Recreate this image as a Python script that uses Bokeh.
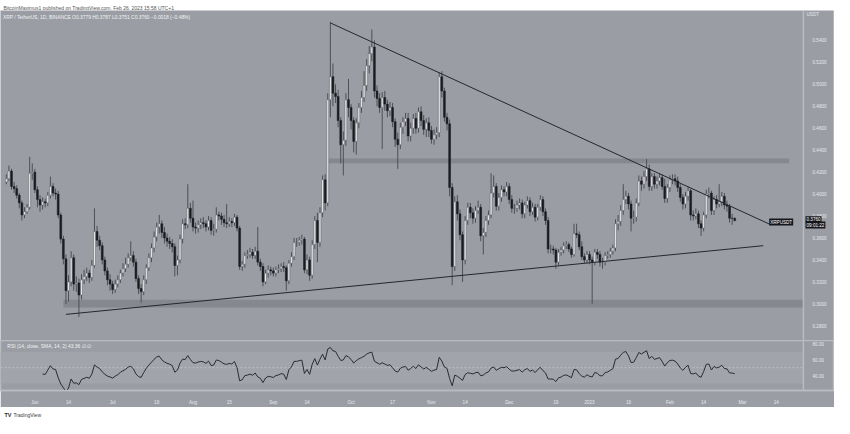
import pandas as pd
from bokeh.plotting import figure
from bokeh.layouts import column
from bokeh.models import Range1d, FixedTicker, PrintfTickFormatter, Label, BoxAnnotation, Span, ColumnDataSource
from bokeh.core.properties import value
from bokeh.embed import file_html
from bokeh.resources import INLINE

# ---------------- data (XRP / TetherUS, 1D, daily candles from 2022-05-21) ----------------
start_date = "2022-05-21"
first_open = 0.411
closes = [
    0.414, 0.421, 0.407, 0.405, 0.399, 0.392, 0.381, 0.384, 0.388, 0.419,
    0.420, 0.404, 0.395, 0.390, 0.393, 0.392, 0.399, 0.407, 0.401, 0.400,
    0.381, 0.359, 0.341, 0.312, 0.320, 0.342, 0.318, 0.319, 0.308, 0.322,
    0.325, 0.328, 0.324, 0.335, 0.366, 0.358, 0.353, 0.340, 0.330, 0.322,
    0.318, 0.313, 0.318, 0.322, 0.328, 0.332, 0.336, 0.342, 0.344, 0.338,
    0.323, 0.314, 0.311, 0.322, 0.333, 0.342, 0.351, 0.361, 0.370, 0.373,
    0.365, 0.360, 0.357, 0.355, 0.352, 0.335, 0.340, 0.359, 0.373, 0.372,
    0.387, 0.378, 0.370, 0.369, 0.372, 0.374, 0.373, 0.370, 0.376, 0.367,
    0.368, 0.381, 0.380, 0.377, 0.374, 0.373, 0.375, 0.374, 0.379, 0.369,
    0.334, 0.336, 0.344, 0.345, 0.347, 0.344, 0.348, 0.338, 0.334, 0.320,
    0.328, 0.331, 0.330, 0.328, 0.331, 0.332, 0.334, 0.333, 0.321, 0.337,
    0.343, 0.356, 0.356, 0.358, 0.359, 0.331, 0.340, 0.326, 0.354, 0.376,
    0.356, 0.383, 0.413, 0.392, 0.486, 0.507, 0.492, 0.489, 0.467, 0.445,
    0.449, 0.486, 0.479, 0.467, 0.448, 0.465, 0.479, 0.488, 0.499, 0.517,
    0.528, 0.534, 0.494, 0.487, 0.479, 0.488, 0.482, 0.476, 0.479, 0.466,
    0.450, 0.445, 0.461, 0.466, 0.469, 0.453, 0.460, 0.469, 0.460, 0.475,
    0.467, 0.459, 0.465, 0.458, 0.450, 0.454, 0.456, 0.507, 0.494, 0.470,
    0.464, 0.406, 0.334, 0.393, 0.382, 0.363, 0.340, 0.376, 0.388, 0.383,
    0.378, 0.385, 0.388, 0.362, 0.365, 0.376, 0.381, 0.401, 0.407, 0.389,
    0.397, 0.404, 0.402, 0.407, 0.395, 0.387, 0.387, 0.390, 0.392, 0.382,
    0.390, 0.394, 0.384, 0.388, 0.379, 0.388, 0.395, 0.384, 0.376, 0.350,
    0.350, 0.349, 0.338, 0.347, 0.349, 0.353, 0.354, 0.350, 0.345, 0.364,
    0.363, 0.352, 0.343, 0.340, 0.345, 0.340, 0.338, 0.347, 0.345, 0.338,
    0.338, 0.344, 0.345, 0.348, 0.351, 0.373, 0.375, 0.385, 0.395, 0.398,
    0.391, 0.378, 0.379, 0.392, 0.412, 0.409, 0.416, 0.423, 0.407, 0.416,
    0.409, 0.412, 0.415, 0.407, 0.396, 0.406, 0.413, 0.414, 0.412, 0.406,
    0.397, 0.391, 0.398, 0.403, 0.381, 0.380, 0.382, 0.373, 0.369, 0.381,
    0.400, 0.401, 0.385, 0.395, 0.391, 0.393, 0.398, 0.390, 0.389, 0.378,
    0.3779, 0.3760,
]
highs = [
    0.418, 0.426, 0.423, 0.411, 0.408, 0.401, 0.394, 0.388, 0.391, 0.434,
    0.428, 0.423, 0.407, 0.399, 0.397, 0.396, 0.402, 0.416, 0.410, 0.405,
    0.403, 0.383, 0.362, 0.345, 0.326, 0.348, 0.345, 0.325, 0.323, 0.327,
    0.331, 0.333, 0.331, 0.340, 0.387, 0.371, 0.362, 0.356, 0.343, 0.333,
    0.327, 0.321, 0.322, 0.326, 0.331, 0.337, 0.342, 0.346, 0.357, 0.348,
    0.341, 0.326, 0.318, 0.326, 0.336, 0.346, 0.355, 0.366, 0.374, 0.381,
    0.376, 0.370, 0.364, 0.361, 0.359, 0.355, 0.344, 0.363, 0.377, 0.378,
    0.409, 0.392, 0.394, 0.374, 0.376, 0.378, 0.379, 0.376, 0.380, 0.379,
    0.373, 0.388, 0.384, 0.383, 0.381, 0.391, 0.379, 0.378, 0.382, 0.381,
    0.371, 0.339, 0.347, 0.349, 0.351, 0.350, 0.352, 0.370, 0.341, 0.337,
    0.331, 0.335, 0.334, 0.333, 0.334, 0.336, 0.337, 0.338, 0.335, 0.340,
    0.347, 0.360, 0.360, 0.361, 0.363, 0.361, 0.345, 0.343, 0.358, 0.380,
    0.383, 0.388, 0.417, 0.418, 0.492, 0.557, 0.519, 0.500, 0.495, 0.470,
    0.457, 0.492, 0.505, 0.482, 0.470, 0.469, 0.483, 0.494, 0.512, 0.523,
    0.535, 0.550, 0.540, 0.499, 0.492, 0.493, 0.494, 0.486, 0.484, 0.483,
    0.469, 0.456, 0.465, 0.470, 0.474, 0.474, 0.465, 0.473, 0.474, 0.479,
    0.480, 0.472, 0.469, 0.470, 0.462, 0.459, 0.461, 0.511, 0.512, 0.497,
    0.474, 0.468, 0.410, 0.398, 0.399, 0.386, 0.366, 0.380, 0.392, 0.392,
    0.387, 0.389, 0.394, 0.391, 0.369, 0.380, 0.385, 0.419, 0.417, 0.410,
    0.401, 0.408, 0.407, 0.411, 0.410, 0.399, 0.391, 0.394, 0.396, 0.395,
    0.393, 0.398, 0.397, 0.392, 0.391, 0.391, 0.399, 0.398, 0.387, 0.379,
    0.354, 0.353, 0.351, 0.350, 0.352, 0.356, 0.357, 0.356, 0.352, 0.373,
    0.373, 0.366, 0.357, 0.346, 0.348, 0.348, 0.343, 0.350, 0.350, 0.348,
    0.342, 0.347, 0.348, 0.351, 0.354, 0.377, 0.381, 0.390, 0.409, 0.403,
    0.401, 0.394, 0.385, 0.396, 0.417, 0.416, 0.421, 0.432, 0.427, 0.419,
    0.419, 0.416, 0.419, 0.418, 0.414, 0.409, 0.417, 0.418, 0.418, 0.416,
    0.409, 0.400, 0.402, 0.407, 0.405, 0.385, 0.387, 0.385, 0.376, 0.384,
    0.404, 0.406, 0.403, 0.398, 0.399, 0.409, 0.402, 0.401, 0.394, 0.391,
    0.382, 0.3787,
]
lows = [
    0.409, 0.412, 0.404, 0.401, 0.396, 0.387, 0.376, 0.378, 0.382, 0.386,
    0.413, 0.401, 0.388, 0.384, 0.386, 0.388, 0.389, 0.396, 0.398, 0.395,
    0.378, 0.355, 0.336, 0.300, 0.302, 0.316, 0.312, 0.311, 0.288, 0.304,
    0.318, 0.321, 0.319, 0.321, 0.333, 0.352, 0.349, 0.336, 0.326, 0.317,
    0.312, 0.309, 0.310, 0.315, 0.319, 0.325, 0.329, 0.333, 0.339, 0.334,
    0.320, 0.309, 0.301, 0.308, 0.318, 0.330, 0.338, 0.347, 0.357, 0.364,
    0.360, 0.355, 0.352, 0.350, 0.347, 0.325, 0.326, 0.337, 0.355, 0.368,
    0.369, 0.374, 0.366, 0.364, 0.365, 0.368, 0.369, 0.366, 0.367, 0.363,
    0.362, 0.365, 0.376, 0.372, 0.370, 0.369, 0.370, 0.370, 0.371, 0.366,
    0.331, 0.330, 0.333, 0.341, 0.342, 0.341, 0.341, 0.335, 0.330, 0.316,
    0.318, 0.324, 0.326, 0.325, 0.325, 0.328, 0.329, 0.329, 0.312, 0.318,
    0.334, 0.340, 0.352, 0.353, 0.354, 0.328, 0.327, 0.321, 0.323, 0.350,
    0.338, 0.352, 0.379, 0.385, 0.389, 0.470, 0.480, 0.483, 0.461, 0.428,
    0.417, 0.444, 0.470, 0.459, 0.438, 0.436, 0.460, 0.474, 0.484, 0.494,
    0.510, 0.521, 0.488, 0.480, 0.474, 0.441, 0.476, 0.470, 0.471, 0.461,
    0.443, 0.423, 0.441, 0.455, 0.462, 0.448, 0.448, 0.455, 0.455, 0.456,
    0.462, 0.454, 0.452, 0.452, 0.446, 0.445, 0.450, 0.452, 0.488, 0.466,
    0.458, 0.398, 0.317, 0.330, 0.376, 0.358, 0.320, 0.336, 0.372, 0.378,
    0.373, 0.374, 0.382, 0.357, 0.345, 0.361, 0.372, 0.378, 0.397, 0.385,
    0.385, 0.393, 0.398, 0.398, 0.391, 0.383, 0.382, 0.384, 0.386, 0.378,
    0.378, 0.387, 0.380, 0.381, 0.375, 0.376, 0.385, 0.380, 0.372, 0.346,
    0.346, 0.345, 0.332, 0.335, 0.344, 0.346, 0.350, 0.347, 0.342, 0.343,
    0.360, 0.349, 0.340, 0.337, 0.337, 0.336, 0.300, 0.335, 0.341, 0.334,
    0.332, 0.335, 0.341, 0.342, 0.345, 0.348, 0.367, 0.371, 0.381, 0.391,
    0.386, 0.366, 0.373, 0.375, 0.389, 0.403, 0.405, 0.412, 0.403, 0.403,
    0.405, 0.405, 0.408, 0.404, 0.392, 0.392, 0.402, 0.409, 0.408, 0.402,
    0.393, 0.386, 0.387, 0.394, 0.376, 0.376, 0.377, 0.369, 0.362, 0.366,
    0.378, 0.396, 0.381, 0.381, 0.387, 0.388, 0.389, 0.386, 0.384, 0.374,
    0.372, 0.3751,
]

tick_dates = ["2022-06-01", "2022-06-14", "2022-07-01", "2022-07-18", "2022-08-01",
              "2022-08-15", "2022-09-01", "2022-09-14", "2022-10-01", "2022-10-17",
              "2022-11-01", "2022-11-14", "2022-12-01", "2022-12-19", "2023-01-01",
              "2023-01-16", "2023-02-01", "2023-02-14", "2023-03-01", "2023-03-14"]
tick_labels = ["Jun", "14", "Jul", "18", "Aug", "15", "Sep", "14", "Oct", "17",
               "Nov", "14", "Dec", "19", "2023", "16", "Feb", "14", "Mar", "14"]
price_ticks = [0.28, 0.30, 0.32, 0.34, 0.36, 0.38, 0.40, 0.42, 0.44, 0.46, 0.48, 0.50, 0.52, 0.54]
rsi_ticks = [40, 60, 80]

# drawn levels / trend lines (dates, prices)
resistance_zone = [0.4280, 0.4324]
resistance_dates = ["2022-09-22", "2023-03-19"]
support_zone = [0.2966, 0.3037]
support_dates = ["2022-06-12", "2023-03-26"]
desc_line_dates = ["2022-09-23", "2023-03-12"]
desc_line_prices = [0.556, 0.372]
asc_line_dates = ["2022-06-13", "2023-03-09"]
asc_line_prices = [0.2904, 0.353]
last_price = 0.3760

header_text = "BitcoinMaximus1 published on TradingView.com, Feb 26, 2023 15:58 UTC+1"
legend_text = "XRP / TetherUS, 1D, BINANCE  O0.3779  H0.3787  L0.3751  C0.3760  \u22120.0018 (\u22120.48%)"
rsi_text = "RSI (14, close, SMA, 14, 2)  43.36  \u2205  \u2205"

# ---------------- styling / layout ----------------
BG = "#9a9da4"
SEP = "#babcc1"
ZONE = "#85888f"
BAND = "#a1a4ab"
AX_TXT = "#e8e9ec"
WICK = "#4e5057"
UP_FILL = "#eeeef0"
UP_LINE = "#5c5e65"
DN_FILL = "#1b1c21"
TL = "#26272c"
BOXC = "#15161b"
FONT = "Liberation Sans"
W = 834
X_EDGE = 307.5            # where the price scale strip begins (in day units)
XR = Range1d(-2.25, 319.1)

t0 = pd.Timestamp(start_date)
def idx(d):
    return (pd.Timestamp(d) - t0).days

n = min(len(closes), len(highs), len(lows))
closes, highs, lows = closes[:n], highs[:n], lows[:n]
opens = [first_open] + closes[:-1]
xs = list(range(n))

up = [i for i in xs if closes[i] >= opens[i]]
dn = [i for i in xs if closes[i] < opens[i]]
src_up = ColumnDataSource(dict(x=up, top=[closes[i] for i in up], bottom=[opens[i] for i in up],
                               hi=[highs[i] for i in up], lo=[lows[i] for i in up]))
src_dn = ColumnDataSource(dict(x=dn, top=[opens[i] for i in dn], bottom=[closes[i] for i in dn],
                               hi=[highs[i] for i in dn], lo=[lows[i] for i in dn]))


def style_scale(ax, ticks, fmt):
    ax.ticker = FixedTicker(ticks=ticks)
    ax.formatter = PrintfTickFormatter(format=fmt)
    ax.axis_line_color = None
    ax.major_tick_line_color = None
    ax.minor_tick_line_color = None
    ax.major_label_text_color = AX_TXT
    ax.major_label_text_font = FONT
    ax.major_label_text_font_size = "4.6px"
    ax.major_label_standoff = -27


# ---------------- header ----------------
head = figure(width=W, height=10, x_range=Range1d(0, W), y_range=Range1d(0, 10),
              toolbar_location=None, output_backend="svg", x_axis_location=None,
              y_axis_location=None, min_border=0, outline_line_color=None,
              background_fill_color="white", border_fill_color="white")
head.grid.visible = False
head.text(x=[3], y=[5], text=[header_text], text_font=value(FONT), text_font_size="5px",
          text_color="#555555", text_baseline="middle")

# ---------------- main pane ----------------
p = figure(width=W, height=330, x_range=XR, y_range=Range1d(0.2666, 0.5673),
           toolbar_location=None, output_backend="svg", x_axis_location=None,
           y_axis_location="right", background_fill_color=BG, border_fill_color=BG,
           outline_line_color=None, min_border_left=0, min_border_right=1,
           min_border_top=0, min_border_bottom=0)
p.grid.visible = False
style_scale(p.yaxis[0], price_ticks, "%.4f")

p.quad(left=[idx(resistance_dates[0])], right=[min(idx(resistance_dates[1]), X_EDGE)],
       bottom=[resistance_zone[0]], top=[resistance_zone[1]], fill_color=ZONE, line_color=None)
p.quad(left=[idx(support_dates[0])], right=[min(idx(support_dates[1]), X_EDGE)],
       bottom=[support_zone[0]], top=[support_zone[1]], fill_color=ZONE, line_color=None)

p.segment(x0="x", y0="lo", x1="x", y1="hi", source=src_up, line_color=WICK, line_width=1)
p.segment(x0="x", y0="lo", x1="x", y1="hi", source=src_dn, line_color=WICK, line_width=1)
p.vbar(x="x", width=0.72, top="top", bottom="bottom", source=src_up,
       fill_color=UP_FILL, line_color=UP_LINE, line_width=0.5)
p.vbar(x="x", width=0.72, top="top", bottom="bottom", source=src_dn,
       fill_color=DN_FILL, line_color=DN_FILL, line_width=0.5)

p.line(x=[idx(d) for d in desc_line_dates], y=desc_line_prices, line_color=TL, line_width=1)
p.line(x=[idx(d) for d in asc_line_dates], y=asc_line_prices, line_color=TL, line_width=1)

p.add_layout(Span(location=X_EDGE, dimension="height", line_color=SEP, line_width=1.5))

p.add_layout(Label(x=-1.3, y=0.5612, text=legend_text, text_font=FONT, text_font_size="4.9px",
                   text_color="#f2f3f5", text_baseline="middle"))
p.add_layout(Label(x=X_EDGE + 1.2, y=0.5632, text="USDT", text_font=FONT, text_font_size="4.6px",
                   text_color=AX_TXT, text_baseline="middle"))
p.add_layout(Label(x=294.3, y=0.3745, text="XRPUSDT", text_font=FONT, text_font_size="4.6px",
                   text_color="white", text_baseline="middle", background_fill_color=BOXC,
                   padding=1))
p.add_layout(Label(x=X_EDGE + 0.8, y=last_price + 0.0010, text="%.4f" % last_price, text_font=FONT,
                   text_font_size="4.6px", text_color="white", text_baseline="middle",
                   background_fill_color=BOXC, padding=1))
p.add_layout(Label(x=X_EDGE + 0.8, y=last_price - 0.0042, text="09:01:22", text_font=FONT,
                   text_font_size="4.6px", text_color="white", text_baseline="middle",
                   background_fill_color=BOXC, padding=1))

# ---------------- RSI pane ----------------
s = pd.Series(closes, dtype=float)
d = s.diff()
gain = d.clip(lower=0)
loss = (-d).clip(lower=0)
ag = gain.ewm(alpha=1 / 14, adjust=True, min_periods=14).mean()
al = loss.ewm(alpha=1 / 14, adjust=True, min_periods=14).mean()
rsi = 100 - 100 / (1 + ag / al)

r = figure(width=W, height=67, x_range=XR, y_range=Range1d(21, 84.6),
           toolbar_location=None, output_backend="svg", x_axis_location="below",
           y_axis_location="right", background_fill_color=BG, border_fill_color=BG,
           outline_line_color=SEP, outline_line_width=1.5, min_border_left=0,
           min_border_right=1, min_border_top=0, min_border_bottom=12)
r.grid.visible = False
r.add_layout(BoxAnnotation(left=XR.start, right=X_EDGE, bottom=30, top=70, fill_color=BAND,
                           fill_alpha=1, line_color=None, level="underlay"))
r.line(x=[XR.start, X_EDGE], y=[50, 50], line_color="#c4c6cb", line_dash="2 2", line_width=0.8)
r.line(x=xs, y=rsi.tolist(), line_color="#2b2c31", line_width=1)
r.add_layout(Span(location=X_EDGE, dimension="height", line_color=SEP, line_width=1.5))
r.add_layout(Label(x=0.4, y=77, text=rsi_text, text_font=FONT, text_font_size="4.9px",
                   text_color="#f2f3f5", text_baseline="middle"))
style_scale(r.yaxis[0], rsi_ticks, "%.2f")

xa = r.xaxis[0]
tick_idx = [idx(t) for t in tick_dates]
xa.ticker = FixedTicker(ticks=tick_idx)
xa.major_label_overrides = {k: lab for k, lab in zip(tick_idx, tick_labels)}
xa.axis_line_color = SEP
xa.axis_line_width = 1.5
xa.major_tick_line_color = None
xa.minor_tick_line_color = None
xa.major_label_text_color = AX_TXT
xa.major_label_text_font = FONT
xa.major_label_text_font_size = "4.6px"
xa.major_label_standoff = 3

# ---------------- footer ----------------
foot = figure(width=W, height=11, x_range=Range1d(0, W), y_range=Range1d(0, 11),
              toolbar_location=None, output_backend="svg", x_axis_location=None,
              y_axis_location=None, min_border=0, outline_line_color=None,
              background_fill_color="white", border_fill_color="white")
foot.grid.visible = False
foot.text(x=[4], y=[5], text=["TV"], text_font=value(FONT), text_font_size="5.5px",
          text_font_style="bold", text_color="#2a2a2a", text_baseline="middle")
foot.text(x=[13], y=[5], text=["TradingView"], text_font=value(FONT), text_font_size="5px",
          text_color="#3a3a3a", text_baseline="middle")

layout = column(head, p, r, foot, spacing=0)
open("out.html", "w").write(file_html(layout, INLINE))
